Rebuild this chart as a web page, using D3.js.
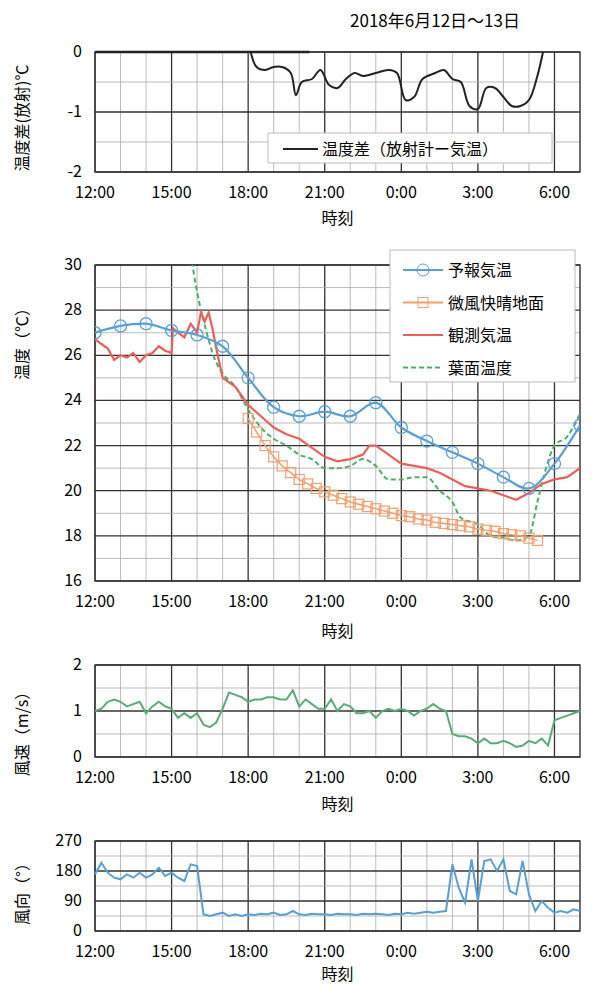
<!DOCTYPE html>
<html><head><meta charset="utf-8">
<script src="https://cdn.jsdelivr.net/npm/d3@7"></script>
<style>body{margin:0;background:#fff}svg{font-family:"Noto Sans CJK JP","Noto Sans",sans-serif}</style>
</head><body><svg id="c" width="600" height="995"></svg>
<script>
const xTicks=[12,15,18,21,24,27,30];
const xTickLabels=["12:00","15:00","18:00","21:00","0:00","3:00","6:00"];
const diffFlatT=[12,20.4];
const diffFlat=[0,0];
const diffT=[18.1,18.33,18.67,19,19.33,19.67,19.87,20.1,20.5,20.83,21.17,21.5,21.83,22.17,22.5,23,23.5,23.83,24.17,24.5,24.83,25.33,25.67,26,26.33,26.67,27,27.33,27.67,28,28.33,28.67,29,29.33,29.55];
const diffV=[0,-0.25,-0.3,-0.25,-0.25,-0.35,-0.72,-0.5,-0.45,-0.3,-0.55,-0.6,-0.45,-0.35,-0.4,-0.35,-0.3,-0.35,-0.8,-0.75,-0.45,-0.35,-0.3,-0.45,-0.5,-0.9,-0.95,-0.6,-0.6,-0.75,-0.9,-0.9,-0.8,-0.4,0];
const fcT=d3.range(12,32);
const fcV=[27.0,27.3,27.4,27.1,26.9,26.4,25.0,23.7,23.3,23.5,23.3,23.9,22.8,22.2,21.7,21.2,20.6,20.1,21.2,22.9];
const gndT=d3.range(0,35).map(i=>18+i/3);
const gndV=[23.2,22.6,22.0,21.5,21.1,20.8,20.5,20.3,20.1,19.95,19.8,19.65,19.5,19.4,19.3,19.2,19.1,19.0,18.9,18.85,18.75,18.7,18.6,18.55,18.5,18.45,18.4,18.3,18.25,18.2,18.1,18.05,18.0,17.9,17.8];
const obsT=[12,12.25,12.5,12.75,13,13.25,13.5,13.75,14,14.25,14.5,14.75,15,15.05,15.25,15.5,15.75,16,16.15,16.3,16.45,16.6,16.75,17,17.5,18,18.5,19,19.5,20,20.5,21,21.5,22,22.5,22.75,23,23.5,24,24.5,25,25.5,26,26.5,27,27.5,28,28.5,29,29.5,30,30.5,31];
const obsV=[26.7,26.5,26.3,25.8,26.0,25.9,26.1,25.7,26.0,26.1,26.4,26.2,26.1,27.2,27.0,26.8,27.4,27.0,27.9,27.5,27.9,27.2,26.3,25.0,24.6,23.8,23.3,22.8,22.5,22.3,21.9,21.5,21.3,21.4,21.6,22.0,22.0,21.6,21.2,21.1,21.0,20.8,20.5,20.2,20.1,20.0,19.8,19.6,19.9,20.3,20.5,20.6,21.0];
const leafT=[15.75,16,16.33,16.67,17,17.5,18,18.5,19,19.5,20,20.5,21,21.5,22,22.5,23,23.5,24,24.5,25,25.5,26,26.33,27,27.5,28,28.5,29,29.33,29.67,30,30.5,31];
const leafV=[30.5,28.8,27.2,25.9,25.2,24.6,23.6,22.8,22.3,22.0,21.6,21.4,21.0,21.0,21.1,21.4,21.1,20.5,20.5,20.6,20.6,20.0,19.5,18.8,18.5,18.0,17.9,17.8,18.0,19.5,21.0,22.0,22.4,23.4];
const wsV=[1.0,1.05,1.2,1.25,1.2,1.1,1.15,1.2,0.95,1.1,1.2,1.1,1.05,0.85,0.95,0.85,0.95,0.7,0.65,0.75,1.05,1.4,1.35,1.3,1.2,1.25,1.25,1.3,1.3,1.25,1.25,1.45,1.1,1.25,1.15,1.05,1.05,1.25,1.0,1.15,1.1,0.95,0.95,1.0,0.85,1.0,1.05,1.0,1.05,1.0,0.9,1.0,1.05,1.15,1.05,1.0,0.5,0.45,0.45,0.4,0.3,0.4,0.3,0.3,0.35,0.3,0.22,0.25,0.35,0.3,0.4,0.25,0.8,0.85,0.9,0.95,1.0];
const wdV=[170,205,175,160,155,170,160,175,160,170,190,165,175,160,150,200,195,50,45,50,55,45,50,45,50,48,52,50,55,48,50,60,50,48,52,50,50,48,52,50,50,48,52,50,52,50,48,52,50,55,52,55,58,55,58,60,200,130,85,215,90,210,215,180,215,120,110,210,110,60,90,70,55,60,55,65,60];
const wT=d3.range(0,77).map(i=>12+i/4);
const svg=d3.select("#c");
const x=d3.scaleLinear().domain([12,31]).range([95,580]);
function panel(y0,y1,dom,major,minor,labels,ylab,ylabY,xlabY){
  const y=d3.scaleLinear().domain(dom).range([y1,y0]);
  const g=svg.append("g");
  d3.range(12,32).forEach(h=>g.append("line").attr("x1",x(h)).attr("x2",x(h)).attr("y1",y0).attr("y2",y1).attr("stroke",h%3==0?"#333":"#aaa").attr("stroke-width",h%3==0?1.3:0.8));
  minor.forEach(v=>g.append("line").attr("x1",95).attr("x2",580).attr("y1",y(v)).attr("y2",y(v)).attr("stroke","#aaa").attr("stroke-width",0.8));
  major.forEach(v=>g.append("line").attr("x1",95).attr("x2",580).attr("y1",y(v)).attr("y2",y(v)).attr("stroke","#333").attr("stroke-width",1.3));
  g.append("rect").attr("x",95).attr("y",y0).attr("width",485).attr("height",y1-y0).attr("fill","none").attr("stroke","#333").attr("stroke-width",1.3);
  major.forEach((v,i)=>g.append("text").attr("x",82).attr("y",y(v)+5).attr("text-anchor","end").attr("font-size",16).text(labels[i]));
  xTicks.forEach((t,i)=>g.append("text").attr("x",x(t)).attr("y",y1+26).attr("text-anchor","middle").attr("font-size",16).text(xTickLabels[i]));
  g.append("text").attr("x",x(21.5)).attr("y",xlabY).attr("text-anchor","middle").attr("font-size",16).text("時刻");
  g.append("text").attr("transform",`translate(28,${ylabY}) rotate(-90)`).attr("text-anchor","middle").attr("font-size",16).text(ylab);
  return y;
}
const line=(y)=>d3.line().x(d=>x(d[0])).y(d=>y(d[1]));
const zip=(a,b)=>a.map((t,i)=>[t,b[i]]);
svg.append("text").attr("x",435).attr("y",27).attr("text-anchor","middle").attr("font-size",17).text("2018年6月12日～13日");
const y1=panel(52,172,[-2,0],[0,-1,-2],[-0.5,-1.5],["0","-1","-2"],"温度差(放射)℃",118,224);
svg.append("path").attr("d",line(y1)(zip(diffFlatT,diffFlat))).attr("stroke","#222").attr("stroke-width",2.5).attr("fill","none");
svg.append("path").attr("d",line(y1).curve(d3.curveCatmullRom)(zip(diffT,diffV))).attr("stroke","#222").attr("stroke-width",2).attr("fill","none");
svg.append("rect").attr("x",268).attr("y",133).attr("width",284).attr("height",30).attr("fill","#fff").attr("stroke","#bbb");
svg.append("line").attr("x1",283).attr("x2",318).attr("y1",149).attr("y2",149).attr("stroke","#222").attr("stroke-width",2);
svg.append("text").attr("x",322).attr("y",155).attr("font-size",16).text("温度差（放射計ー気温）");
const y2=panel(265,581,[16,30],[30,28,26,24,22,20,18,16],[29,27,25,23,21,19,17],["30","28","26","24","22","20","18","16"],"温度（℃）",340,637);
svg.append("clipPath").attr("id","cp").append("rect").attr("x",95).attr("y",265).attr("width",485).attr("height",316);
const cl=svg.append("g").attr("clip-path","url(#cp)");
cl.append("path").attr("d",line(y2).curve(d3.curveMonotoneX)(zip(leafT,leafV))).attr("stroke","#4caf65").attr("stroke-width",2).attr("stroke-dasharray","5,3").attr("fill","none");
cl.append("path").attr("d",line(y2).curve(d3.curveCatmullRom)(zip(gndT,gndV))).attr("stroke","#f0a070").attr("stroke-width",1.5).attr("fill","none");
cl.selectAll(".sq").data(zip(gndT,gndV)).enter().append("rect").attr("x",d=>x(d[0])-5).attr("y",d=>y2(d[1])-5).attr("width",10).attr("height",10).attr("fill","none").attr("stroke","#f0a070").attr("stroke-width",1.2);
cl.append("path").attr("d",line(y2)(zip(obsT,obsV))).attr("stroke","#e8605a").attr("stroke-width",2.2).attr("fill","none");
cl.append("path").attr("d",line(y2).curve(d3.curveCatmullRom)(zip(fcT,fcV))).attr("stroke","#5a9fd4").attr("stroke-width",2.2).attr("fill","none");
cl.selectAll(".ci").data(zip(fcT,fcV)).enter().append("circle").attr("cx",d=>x(d[0])).attr("cy",d=>y2(d[1])).attr("r",6).attr("fill","none").attr("stroke","#5a9fd4").attr("stroke-width",1.3);
const lg=svg.append("g");
lg.append("rect").attr("x",390).attr("y",250).attr("width",185).attr("height",132).attr("fill","#fff").attr("stroke","#bbb");
const leg=[["予報気温","#5a9fd4","c"],["微風快晴地面","#f0a070","s"],["観測気温","#e8605a",""],["葉面温度","#4caf65","d"]];
leg.forEach((l,i)=>{const yy=270+i*32.5;
  lg.append("line").attr("x1",403).attr("x2",443).attr("y1",yy).attr("y2",yy).attr("stroke",l[1]).attr("stroke-width",2).attr("stroke-dasharray",l[2]=="d"?"5,3":null);
  if(l[2]=="c")lg.append("circle").attr("cx",423).attr("cy",yy).attr("r",6).attr("fill","none").attr("stroke",l[1]);
  if(l[2]=="s")lg.append("rect").attr("x",418).attr("y",yy-5).attr("width",10).attr("height",10).attr("fill","none").attr("stroke",l[1]);
  lg.append("text").attr("x",448).attr("y",yy+6).attr("font-size",16).text(l[0]);});
const y3=panel(665,757,[0,2],[2,1,0],[1.5,0.5],["2","1","0"],"風速（m/s）",730,810);
svg.append("path").attr("d",line(y3)(zip(wT,wsV))).attr("stroke","#5daa78").attr("stroke-width",2).attr("fill","none");
const y4=panel(841,931,[0,270],[270,180,90,0],[225,135,45],["270","180","90","0"],"風向（°）",890,980);
svg.append("path").attr("d",line(y4)(zip(wT,wdV))).attr("stroke","#5a9fd4").attr("stroke-width",2).attr("fill","none");
</script></body></html>
